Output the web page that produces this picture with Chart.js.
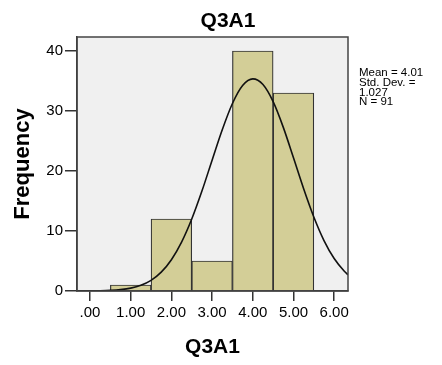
<!DOCTYPE html>
<html>
<head>
<meta charset="utf-8">
<script src="https://cdn.jsdelivr.net/npm/chart.js@4.4.1/dist/chart.umd.min.js"></script>
<style>
  html, body { margin: 0; padding: 0; background: #ffffff; }
  #wrap { width: 442px; height: 365px; position: relative; }
</style>
</head>
<body>
<div id="wrap"><canvas id="c" width="442" height="365"></canvas></div>
<script>
// ---- data ----
const chartTitle = 'Q3A1';
const xAxisTitle = 'Q3A1';
const yAxisTitle = 'Frequency';
const binCenters = [1, 2, 3, 4, 5];
const binCounts = [1, 12, 5, 40, 33];
const xTickValues = [0, 1, 2, 3, 4, 5, 6];
const xTickLabels = ['.00', '1.00', '2.00', '3.00', '4.00', '5.00', '6.00'];
const yTickValues = [0, 10, 20, 30, 40];
const statsLines = ['Mean = 4.01', 'Std. Dev. =', '1.027', 'N = 91'];
// normal curve
const curveX = [-0.32, 0, 0.25, 0.5, 0.75, 1, 1.25, 1.5, 1.75, 2, 2.25, 2.5, 2.75, 3, 3.25, 3.5, 3.75, 4, 4.25, 4.5, 4.75, 5, 5.25, 5.5, 5.75, 6, 6.25, 6.34];
const curveY = [0.01, 0.02, 0.04, 0.10, 0.23, 0.48, 0.96, 1.78, 3.14, 5.21, 8.14, 11.99, 16.65, 21.8, 26.88, 31.25, 34.24, 35.35, 34.4, 31.55, 27.27, 22.21, 17.05, 12.34, 8.41, 5.41, 3.28, 2.7];

const FONT = '"Liberation Sans", Arial, sans-serif';

const frameBg = {
  id: 'frameBg',
  beforeDraw(chart) {
    const {ctx, chartArea: a} = chart;
    ctx.save();
    ctx.fillStyle = '#f0f0f0';
    ctx.fillRect(a.left, a.top, a.right - a.left, a.bottom - a.top);
    ctx.restore();
  },
  afterDraw(chart) {
    const {ctx, chartArea: a} = chart;
    ctx.save();
    ctx.strokeStyle = '#444444';
    ctx.lineWidth = 1.5;
    ctx.strokeRect(a.left, a.top, a.right - a.left, a.bottom - a.top);
    // main title
    ctx.fillStyle = '#000';
    ctx.font = 'bold 21px ' + FONT;
    ctx.textAlign = 'center';
    ctx.textBaseline = 'middle';
    ctx.fillText(chartTitle, 228, 21);
    // stats annotation
    ctx.font = '11.5px ' + FONT;
    ctx.textAlign = 'left';
    statsLines.forEach((s, i) => ctx.fillText(s, a.right + 11, 73 + i * 9.7));
    ctx.restore();
  }
};

new Chart(document.getElementById('c'), {
  data: {
    datasets: [
      {
        type: 'line',
        data: curveX.map((x, i) => ({x, y: curveY[i]})),
        borderColor: '#111111',
        borderWidth: 1.6,
        pointRadius: 0,
        tension: 0.4,
        cubicInterpolationMode: 'monotone',
        fill: false,
        clip: 0,
        order: 0
      },
      {
        type: 'bar',
        data: binCenters.map((x, i) => ({x, y: binCounts[i]})),
        backgroundColor: '#d3ce97',
        borderColor: '#333333',
        borderWidth: 1.2,
        barPercentage: 1,
        categoryPercentage: 1,
        order: 1
      }
    ]
  },
  options: {
    responsive: false,
    animation: false,
    devicePixelRatio: 1,
    layout: { padding: { left: 0, right: 94, top: 37, bottom: 0 } },
    plugins: { legend: { display: false }, tooltip: { enabled: false }, title: { display: false } },
    scales: {
      x: {
        type: 'linear',
        offset: false,
        min: -0.32,
        max: 6.34,
        afterFit(s) { s.height = 365 - 291; },
        afterBuildTicks(s) { s.ticks = xTickValues.map(v => ({value: v})); },
        ticks: {
          includeBounds: false,
          color: '#000',
          font: { family: FONT, size: 15 },
          padding: 3,
          maxRotation: 0,
          autoSkip: false,
          callback: (v) => xTickLabels[xTickValues.indexOf(v)]
        },
        grid: { offset: false, drawOnChartArea: false, drawTicks: true, tickLength: 10, color: '#333', lineWidth: 1.5 },
        border: { display: true, color: '#333', width: 1.5 },
        title: { display: true, text: xAxisTitle, color: '#000', font: { family: FONT, size: 21, weight: 'bold' }, padding: { top: 0, bottom: 5 } }
      },
      y: {
        type: 'linear',
        min: 0,
        max: 42.33,
        afterFit(s) { s.width = 77; },
        afterBuildTicks(s) { s.ticks = yTickValues.map(v => ({value: v})); },
        ticks: {
          includeBounds: false,
          color: '#000',
          font: { family: FONT, size: 15 },
          padding: 2
        },
        grid: { drawOnChartArea: false, drawTicks: true, tickLength: 12, color: '#333', lineWidth: 1.5 },
        border: { display: true, color: '#333', width: 1.5 },
        title: { display: true, text: yAxisTitle, color: '#000', font: { family: FONT, size: 22, weight: 'bold' }, padding: { top: 10, bottom: 0 } }
      }
    }
  },
  plugins: [frameBg]
});
</script>
</body>
</html>
